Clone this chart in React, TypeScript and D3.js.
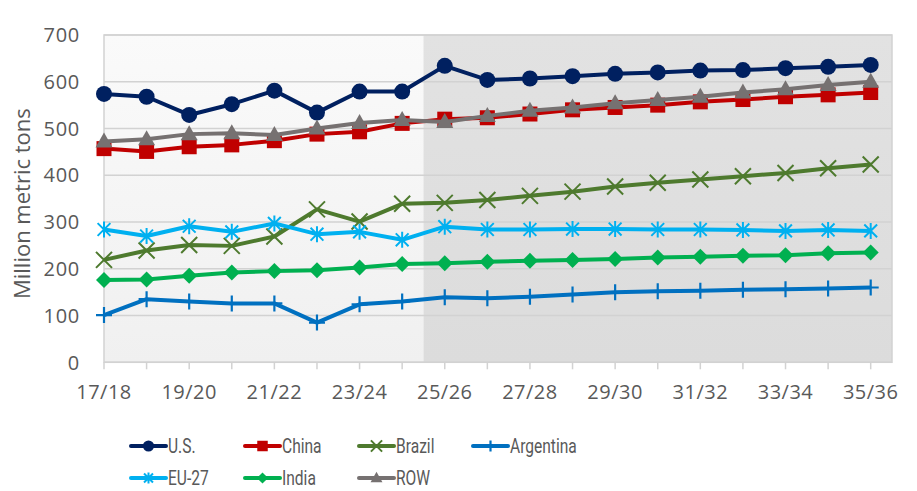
import React from "react";
import * as d3 from "d3";

const seasons = [
  "17/18", "18/19", "19/20", "20/21", "21/22", "22/23", "23/24", "24/25", "25/26",
  "26/27", "27/28", "28/29", "29/30", "30/31", "31/32", "32/33", "33/34", "34/35", "35/36",
];

const usValues = [574, 568, 529, 552, 581, 534, 579, 579, 634, 604, 607, 612, 617, 620, 624, 625, 629, 632, 636];
const chinaValues = [457, 451, 461, 465, 474, 488, 493, 511, 520, 523, 531, 540, 545, 550, 557, 562, 568, 572, 577];
const brazilValues = [219, 239, 251, 249, 269, 327, 301, 339, 341, 347, 356, 365, 376, 384, 391, 398, 405, 415, 423];
const argentinaValues = [101, 135, 130, 126, 126, 85, 124, 130, 139, 137, 140, 145, 150, 152, 153, 155, 156, 158, 160];
const euValues = [284, 270, 291, 279, 297, 274, 279, 262, 290, 284, 284, 285, 285, 284, 284, 283, 281, 283, 281];
const indiaValues = [176, 177, 185, 192, 195, 197, 203, 210, 212, 215, 217, 219, 221, 224, 226, 228, 229, 233, 235];
const rowValues = [472, 477, 488, 490, 486, 500, 512, 518, 514, 527, 538, 545, 554, 561, 568, 577, 584, 593, 600];

const yTicks = [0, 100, 200, 300, 400, 500, 600, 700];
const projectionStart = 7.5; // projections begin between 24/25 and 25/26

type Marker = "circle" | "square" | "times" | "plus" | "asterisk" | "diamond" | "triangle";

interface Series {
  name: string;
  values: number[];
  color: string;
  marker: Marker;
}

const series: Series[] = [
  { name: "U.S.", values: usValues, color: "#002060", marker: "circle" },
  { name: "China", values: chinaValues, color: "#C00000", marker: "square" },
  { name: "Brazil", values: brazilValues, color: "#4E7A2E", marker: "times" },
  { name: "Argentina", values: argentinaValues, color: "#0070C0", marker: "plus" },
  { name: "EU-27", values: euValues, color: "#00B0F0", marker: "asterisk" },
  { name: "India", values: indiaValues, color: "#00B050", marker: "diamond" },
  { name: "ROW", values: rowValues, color: "#767171", marker: "triangle" },
];

const W = 917;
const H = 491;
const plot = { left: 104, right: 892, top: 35, bottom: 362.3 };

const x = d3.scaleLinear().domain([0, seasons.length - 0.5]).range([plot.left, plot.right]);
const y = d3.scaleLinear().domain([0, 700]).range([plot.bottom, plot.top]);

const textColor = "#595959";
const axisFont = "'Open Sans', 'Liberation Sans', sans-serif";
const legendFont = "Roboto, 'Liberation Sans', sans-serif";

function MarkerShape({ kind, cx, cy, color, s }: { kind: Marker; cx: number; cy: number; color: string; s: number }) {
  const h = 8 * s;
  switch (kind) {
    case "circle":
      return <circle cx={cx} cy={cy} r={h} fill={color} />;
    case "square":
      return <rect x={cx - 7.5 * s} y={cy - 7.5 * s} width={15 * s} height={15 * s} fill={color} />;
    case "diamond":
      return <path d={`M${cx},${cy - h}L${cx + h},${cy}L${cx},${cy + h}L${cx - h},${cy}Z`} fill={color} />;
    case "triangle":
      return (
        <path d={`M${cx},${cy - 9 * s}L${cx + 8.5 * s},${cy + 6 * s}L${cx - 8.5 * s},${cy + 6 * s}Z`} fill={color} />
      );
    case "times":
      return (
        <path
          d={`M${cx - h},${cy - h}L${cx + h},${cy + h}M${cx - h},${cy + h}L${cx + h},${cy - h}`}
          stroke={color}
          strokeWidth={2}
          fill="none"
        />
      );
    case "plus":
      return (
        <path
          d={`M${cx},${cy - h}L${cx},${cy + h}M${cx - h},${cy}L${cx + h},${cy}`}
          stroke={color}
          strokeWidth={2.2}
          fill="none"
        />
      );
    case "asterisk": {
      const d = h * 0.8;
      return (
        <path
          d={`M${cx},${cy - h}L${cx},${cy + h}M${cx - d},${cy - d}L${cx + d},${cy + d}M${cx - d},${cy + d}L${cx + d},${cy - d}`}
          stroke={color}
          strokeWidth={2}
          fill="none"
        />
      );
    }
  }
}

const line = d3
  .line<number>()
  .x((_, i) => x(i))
  .y((v) => y(v));

const legendCols = [131, 245, 359, 473];
const legendRows = [446, 478];

export default function App() {
  return (
    <svg width={W} height={H} style={{ position: "absolute", left: 0, top: 0, background: "#fff" }}>
      <defs>
        <linearGradient id="histBg" x1="0" y1="0" x2="0" y2="1">
          <stop offset="0" stopColor="#fafafa" />
          <stop offset="1" stopColor="#f0f0f0" />
        </linearGradient>
        <linearGradient id="projBg" x1="0" y1="0" x2="0" y2="1">
          <stop offset="0" stopColor="#e2e2e2" />
          <stop offset="1" stopColor="#dcdcdc" />
        </linearGradient>
      </defs>

      {/* plot background: historical and projected periods */}
      <rect x={plot.left} y={plot.top} width={x(projectionStart) - plot.left} height={plot.bottom - plot.top} fill="url(#histBg)" />
      <rect
        x={x(projectionStart)}
        y={plot.top}
        width={plot.right - x(projectionStart)}
        height={plot.bottom - plot.top}
        fill="url(#projBg)"
      />

      {/* gridlines */}
      {yTicks.map((t) => (
        <line key={t} x1={plot.left} x2={plot.right} y1={y(t)} y2={y(t)} stroke="#d2d2d2" strokeWidth={1.5} />
      ))}
      <rect
        x={plot.left}
        y={plot.top}
        width={plot.right - plot.left}
        height={plot.bottom - plot.top}
        fill="none"
        stroke="#d2d2d2"
        strokeWidth={1.5}
      />

      {/* x tick marks */}
      {seasons.map((s, i) => (
        <line key={s} x1={x(i)} x2={x(i)} y1={plot.bottom} y2={plot.bottom + 7} stroke="#d2d2d2" strokeWidth={1.5} />
      ))}

      {/* y tick labels */}
      {yTicks.map((t) => (
        <text
          key={t}
          x={80}
          y={y(t)}
          dy="0.36em"
          textAnchor="end"
          fontFamily={axisFont}
          fontSize={20}
          letterSpacing={0.7}
          fill={textColor}
        >
          {t}
        </text>
      ))}

      {/* x tick labels, every other season */}
      {seasons.map((s, i) =>
        i % 2 === 0 ? (
          <text
            key={s}
            x={x(i)}
            y={399}
            textAnchor="middle"
            fontFamily={axisFont}
            fontSize={20}
            letterSpacing={0.5}
            fill={textColor}
          >
            {s}
          </text>
        ) : null
      )}

      {/* y axis title */}
      <text
        transform={`translate(30,${(plot.top + plot.bottom) / 2 + 5}) rotate(-90)`}
        textAnchor="middle"
        fontFamily={axisFont}
        fontSize={22}
        fill={textColor}
      >
        Million metric tons
      </text>

      {/* series lines and markers */}
      {series.map((s) => (
        <g key={s.name}>
          <path d={line(s.values) ?? ""} fill="none" stroke={s.color} strokeWidth={4} strokeLinejoin="round" />
          {s.values.map((v, i) => (
            <MarkerShape key={i} kind={s.marker} cx={x(i)} cy={y(v)} color={s.color} s={1} />
          ))}
        </g>
      ))}

      {/* legend */}
      {series.map((s, k) => {
        const lx = legendCols[k % 4];
        const ly = legendRows[Math.floor(k / 4)];
        return (
          <g key={s.name}>
            <line x1={lx} x2={lx + 35} y1={ly} y2={ly} stroke={s.color} strokeWidth={4} strokeLinecap="round" />
            <MarkerShape kind={s.marker} cx={lx + 17.5} cy={ly} color={s.color} s={0.7} />
            <text
              transform={`translate(${lx + 37},${ly}) scale(0.76,1)`}
              dy="0.36em"
              fontFamily={legendFont}
              fontSize={20.5}
              fill={textColor}
            >
              {s.name}
            </text>
          </g>
        );
      })}
    </svg>
  );
}
